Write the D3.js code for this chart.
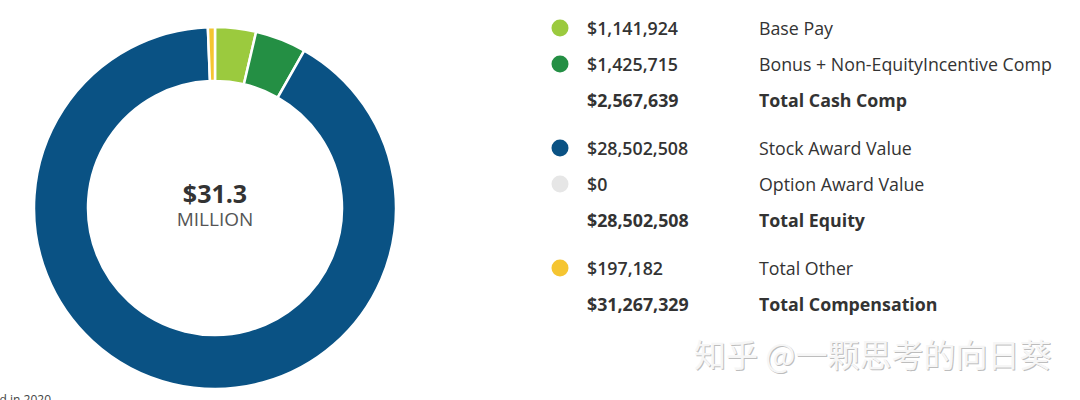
<!DOCTYPE html>
<html>
<head>
<meta charset="utf-8">
<script src="https://cdn.jsdelivr.net/npm/d3@7"></script>
<style>
  html, body { margin: 0; padding: 0; background: #fff; }
  svg { display: block; font-family: "Open Sans", "Noto Sans", sans-serif; }
</style>
</head>
<body>
<svg id="chart" width="1080" height="400"></svg>
<script>
// ---- data ----
const categories = ["Base Pay", "Bonus + Non-EquityIncentive Comp", "Stock Award Value", "Option Award Value", "Total Other"];
const values = [1141924, 1425715, 28502508, 0, 197182];
const colors = ["#9bca3e", "#248f44", "#0a5284", "#e6e6e6", "#f5c531"];
const totalLabels = ["Total Cash Comp", "Total Equity", "Total Compensation"];
const totalValues = [2567639, 28502508, 31267329];
const groups = [[0, 1], [2, 3], [4]];   // category indices per group, each followed by its total row
const centerValue = "$31.3";
const centerUnit = "MILLION";
const footnote = "d in 2020";
const watermark = "知乎 @一颗思考的向日葵";

const svg = d3.select("#chart");
const fmt = d3.format("$,");

// ---- donut ----
const cx = 215, cy = 208, rOuter = 181, rInner = 127;
const pie = d3.pie().sort(null).value(d => d).startAngle(0).endAngle(2 * Math.PI);
const arc = d3.arc().innerRadius(rInner).outerRadius(rOuter);
const g = svg.append("g").attr("transform", `translate(${cx},${cy})`);
g.selectAll("path")
  .data(pie(values))
  .join("path")
  .attr("d", arc)
  .attr("fill", (d, i) => colors[i])
  .attr("stroke", "#fff")
  .attr("stroke-width", d => d.value > 0 ? 2.5 : 0);

g.append("text").attr("text-anchor", "middle").attr("y", -5)
  .attr("font-size", 25).attr("font-weight", 700).attr("fill", "#333")
  .text(centerValue);
g.append("text").attr("text-anchor", "middle").attr("y", 18)
  .attr("font-size", 19).attr("fill", "#555")
  .text(centerUnit);

// ---- legend ----
const rows = [];
groups.forEach((grp, gi) => {
  grp.forEach(ci => rows.push({ group: gi, dot: colors[ci], value: values[ci], label: categories[ci], total: false }));
  rows.push({ group: gi, dot: null, value: totalValues[gi], label: totalLabels[gi], total: true });
});
const rowStep = 36, groupGap = 12, yTop = 28;
let y = yTop, prevGroup = 0;
rows.forEach((r, i) => {
  if (i > 0) { y += rowStep + (r.group !== prevGroup ? groupGap : 0); }
  r.y = y; prevGroup = r.group;
});
const lg = svg.append("g");
const row = lg.selectAll("g.row").data(rows).join("g").attr("class", "row")
  .attr("transform", d => `translate(0,${d.y})`);
row.filter(d => d.dot).append("circle")
  .attr("cx", 560).attr("cy", 0).attr("r", 8.5).attr("fill", d => d.dot);
row.append("text").attr("x", 587).attr("y", 6.5)
  .attr("font-size", 17.8).attr("fill", "#333")
  .attr("font-weight", d => d.total ? 700 : 600)
  .text(d => fmt(d.value));
row.append("text").attr("x", 759).attr("y", 6.5)
  .attr("font-size", 17.8).attr("fill", "#333")
  .attr("font-weight", d => d.total ? 700 : 500)
  .text(d => d.label);

// ---- footnote (cut off at the bottom-left, as in the source) ----
svg.append("text").attr("x", 51).attr("y", 404).attr("text-anchor", "end")
  .attr("font-size", 12).attr("fill", "#444").text(footnote);

// ---- watermark ----
const wm = svg.append("g").attr("font-family", "'Noto Sans CJK SC', sans-serif").attr("font-size", 32);
wm.append("text").attr("x", 695).attr("y", 368).attr("fill", "#bdbdbd").text(watermark);
wm.append("text").attr("x", 694).attr("y", 367).attr("fill", "#f6f6f6").text(watermark);
</script>
</body>
</html>
